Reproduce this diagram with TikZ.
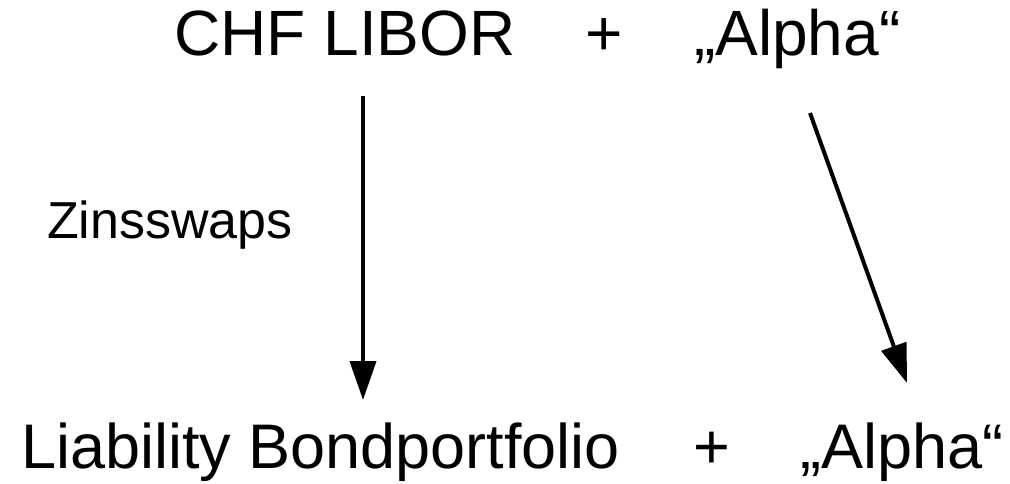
\documentclass[tikz,border=0pt]{standalone}
\usepackage{fontspec}
\setmainfont{Liberation Sans}
\usetikzlibrary{arrows.meta}
\begin{document}
\begin{tikzpicture}[x=1pt,y=-1pt,
  big/.style={anchor=base west,inner sep=0pt,font=\fontsize{64}{72}\selectfont},
  bigb/.style={anchor=base west,inner sep=0pt,font=\fontsize{63}{72}\selectfont},
  mid/.style={anchor=base west,inner sep=0pt,font=\fontsize{52}{60}\selectfont},
  arr/.style={line width=4pt,-{Triangle[length=39pt,width=26pt]}}]
\useasboundingbox (0,0) rectangle (1010,483);
\node[big] (chf) at (174,55) {CHF LIBOR};
\node[big,anchor=base] (p1) at (604,55) {+};
\node[big] (a1) at (694,55) {„Alpha“};
\node[bigb] (lb) at (21,468) {Liability Bondportfolio};
\node[bigb,anchor=base] (p2) at (712,468) {+};
\node[bigb] (a2) at (800,468) {„Alpha“};
\node[mid] (zs) at (47,238) {Zinsswaps};
\coordinate (s1) at (363,96);
\coordinate (e1) at (363,400);
\coordinate (s2) at (810,113);
\coordinate (e2) at (907,383);
\draw[arr] (s1) -- (e1);
\draw[arr] (s2) -- (e2);
\end{tikzpicture}
\end{document}
